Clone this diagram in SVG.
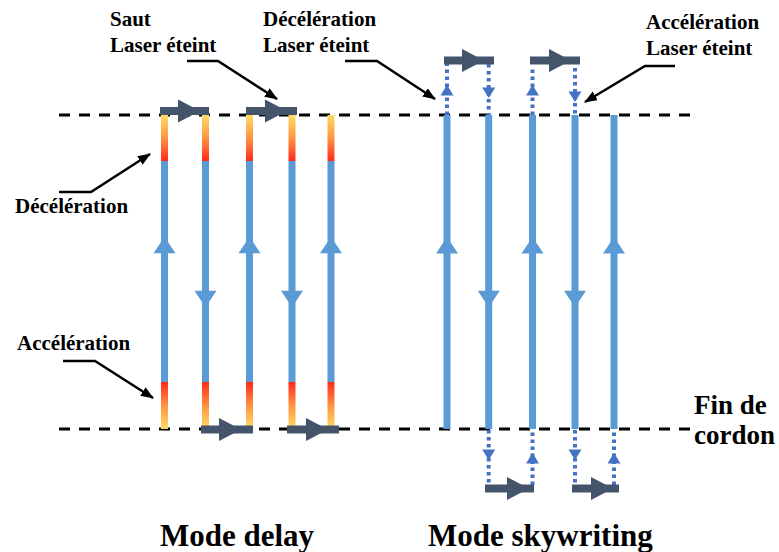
<svg xmlns="http://www.w3.org/2000/svg" width="779" height="552" viewBox="0 0 779 552">
  <style>
    .lbl { font-family: "Liberation Serif", "Times New Roman", serif; font-weight: bold; fill: #000; font-size: 21px; }
    .big { font-size: 31px; }
    .mid { font-size: 27px; }
    .dash { stroke: #000; stroke-width: 3; stroke-dasharray: 11 9; fill: none; }
    .blue { fill: #5B9BD5; }
    .dot { stroke: #4472C4; stroke-width: 4; stroke-dasharray: 3.5 3.5; fill: none; }
    .dotHead { fill: #4472C4; }
    .jump { stroke: #44546A; stroke-width: 8; fill: none; }
    .jumpHead { fill: #44546A; }
    .leader { stroke: #000; stroke-width: 2.5; fill: none; marker-end: url(#arr); }
  </style>
  <defs>
    <linearGradient id="gTop" x1="0" y1="0" x2="0" y2="1">
      <stop offset="0" stop-color="#FFDB66"/>
      <stop offset="0.5" stop-color="#FF9440"/>
      <stop offset="1" stop-color="#FF2A1A"/>
    </linearGradient>
    <linearGradient id="gBot" x1="0" y1="0" x2="0" y2="1">
      <stop offset="0" stop-color="#FF2A1A"/>
      <stop offset="0.5" stop-color="#FF9440"/>
      <stop offset="1" stop-color="#FFDB66"/>
    </linearGradient>
    <marker id="arr" markerUnits="userSpaceOnUse" markerWidth="14" markerHeight="12" refX="12" refY="5" orient="auto">
      <path d="M0,0 L13,5 L0,10 z" fill="#000"/>
    </marker>
    <path id="upHead" class="blue" d="M0,0 L11,16.6 L-11,16.6 z"/>
    <path id="downHead" class="blue" d="M0,0 L11,-16.6 L-11,-16.6 z"/>
    <path id="dUp" class="dotHead" d="M0,0 L6.5,10.5 L-6.5,10.5 z"/>
    <path id="dDown" class="dotHead" d="M0,0 L6.5,-10.5 L-6.5,-10.5 z"/>
    <path id="jHead" class="jumpHead" d="M0,-11.5 L22,0 L0,11.5 z"/>
  </defs>

  <g id="guides">
    <line class="dash" x1="59" y1="115" x2="693" y2="115"/>
    <line class="dash" x1="59" y1="429" x2="693" y2="429"/>
  </g>

  <g id="delay-bars">
    <g id="d1">
      <rect x="161" y="115" width="7" height="46" fill="url(#gTop)"/>
      <rect class="blue" x="161" y="161" width="7" height="221"/>
      <rect x="161" y="382" width="7" height="47" fill="url(#gBot)"/>
      <use href="#upHead" x="164.5" y="236.7"/>
    </g>
    <g id="d2">
      <rect x="202" y="115" width="7" height="46" fill="url(#gTop)"/>
      <rect class="blue" x="202" y="161" width="7" height="221"/>
      <rect x="202" y="382" width="7" height="47" fill="url(#gBot)"/>
      <use href="#downHead" x="205.5" y="307.3"/>
    </g>
    <g id="d3">
      <rect x="246" y="115" width="7" height="46" fill="url(#gTop)"/>
      <rect class="blue" x="246" y="161" width="7" height="221"/>
      <rect x="246" y="382" width="7" height="47" fill="url(#gBot)"/>
      <use href="#upHead" x="249.5" y="236.7"/>
    </g>
    <g id="d4">
      <rect x="288.5" y="115" width="7" height="46" fill="url(#gTop)"/>
      <rect class="blue" x="288.5" y="161" width="7" height="221"/>
      <rect x="288.5" y="382" width="7" height="47" fill="url(#gBot)"/>
      <use href="#downHead" x="292" y="307.3"/>
    </g>
    <g id="d5">
      <rect x="327.5" y="115" width="7" height="46" fill="url(#gTop)"/>
      <rect class="blue" x="327.5" y="161" width="7" height="221"/>
      <rect x="327.5" y="382" width="7" height="47" fill="url(#gBot)"/>
      <use href="#upHead" x="331" y="236.7"/>
    </g>
  </g>

  <g id="sky-bars">
    <g id="s1">
      <rect class="blue" x="443.5" y="115" width="7" height="314"/>
      <use href="#upHead" x="447" y="237"/>
    </g>
    <g id="s2">
      <rect class="blue" x="485.2" y="115" width="7" height="314"/>
      <use href="#downHead" x="488.7" y="307.3"/>
    </g>
    <g id="s3">
      <rect class="blue" x="529" y="115" width="7" height="314"/>
      <use href="#upHead" x="532.5" y="237"/>
    </g>
    <g id="s4">
      <rect class="blue" x="571.5" y="115" width="7" height="314"/>
      <use href="#downHead" x="575" y="307.3"/>
    </g>
    <g id="s5">
      <rect class="blue" x="610.5" y="115" width="7" height="314"/>
      <use href="#upHead" x="614" y="237"/>
    </g>
  </g>

  <g id="connectors">
    <!-- skywriting dotted extensions -->
    <line class="dot" x1="447" y1="115" x2="447" y2="63"/>
    <use href="#dUp" x="447" y="85"/>
    <line class="dot" x1="488.7" y1="64" x2="488.7" y2="115"/>
    <use href="#dDown" x="488.7" y="98"/>
    <line class="dot" x1="532.5" y1="115" x2="532.5" y2="67"/>
    <use href="#dUp" x="532.5" y="85"/>
    <line class="dot" x1="575" y1="68" x2="575" y2="115"/>
    <use href="#dDown" x="575" y="102"/>

    <line class="dot" x1="488.7" y1="430" x2="488.7" y2="485"/>
    <use href="#dDown" x="488.7" y="460"/>
    <line class="dot" x1="532.5" y1="485" x2="532.5" y2="430"/>
    <use href="#dUp" x="532.5" y="453"/>
    <line class="dot" x1="575" y1="430" x2="575" y2="485"/>
    <use href="#dDown" x="575" y="460"/>
    <line class="dot" x1="614" y1="485" x2="614" y2="430"/>
    <use href="#dUp" x="614" y="453"/>

    <!-- jump arrows -->
    <line class="jump" x1="160" y1="111" x2="209" y2="111"/>
    <use href="#jHead" x="178" y="111"/>
    <line class="jump" x1="246" y1="111" x2="297" y2="111"/>
    <use href="#jHead" x="265" y="111"/>
    <line class="jump" x1="201" y1="429.5" x2="253" y2="429.5"/>
    <use href="#jHead" x="219" y="429.5"/>
    <line class="jump" x1="287" y1="429.5" x2="339" y2="429.5"/>
    <use href="#jHead" x="306" y="429.5"/>
    <line class="jump" x1="444" y1="60.5" x2="494" y2="60.5"/>
    <use href="#jHead" x="462" y="60.5"/>
    <line class="jump" x1="530" y1="60.5" x2="580" y2="60.5"/>
    <use href="#jHead" x="549" y="60.5"/>
    <line class="jump" x1="485" y1="488.5" x2="534" y2="488.5"/>
    <use href="#jHead" x="507" y="488.5"/>
    <line class="jump" x1="572" y1="488.5" x2="619" y2="488.5"/>
    <use href="#jHead" x="591" y="488.5"/>

    <!-- label leaders -->
    <polyline class="leader" points="187,61 218,61 277,99"/>
    <polyline class="leader" points="345,61 377,61 435,99"/>
    <polyline class="leader" points="675,66 645,66 585,102"/>
    <polyline class="leader" points="59,192 91,192 150,154"/>
    <polyline class="leader" points="63,361 95,361 153,398"/>
  </g>

  <g id="labels">
    <text class="lbl" x="110" y="26">Saut</text>
    <text class="lbl" x="110" y="52">Laser éteint</text>
    <text class="lbl" x="263" y="26">Décélération</text>
    <text class="lbl" x="263" y="52">Laser éteint</text>
    <text class="lbl" x="646" y="29">Accélération</text>
    <text class="lbl" x="646" y="55">Laser éteint</text>
    <text class="lbl" x="15" y="213">Décélération</text>
    <text class="lbl" x="17" y="350">Accélération</text>
    <text class="lbl mid" x="694" y="414">Fin de</text>
    <text class="lbl mid" x="694" y="444">cordon</text>
    <text class="lbl big" x="160" y="546">Mode delay</text>
    <text class="lbl big" x="428" y="546">Mode skywriting</text>
  </g>
</svg>
